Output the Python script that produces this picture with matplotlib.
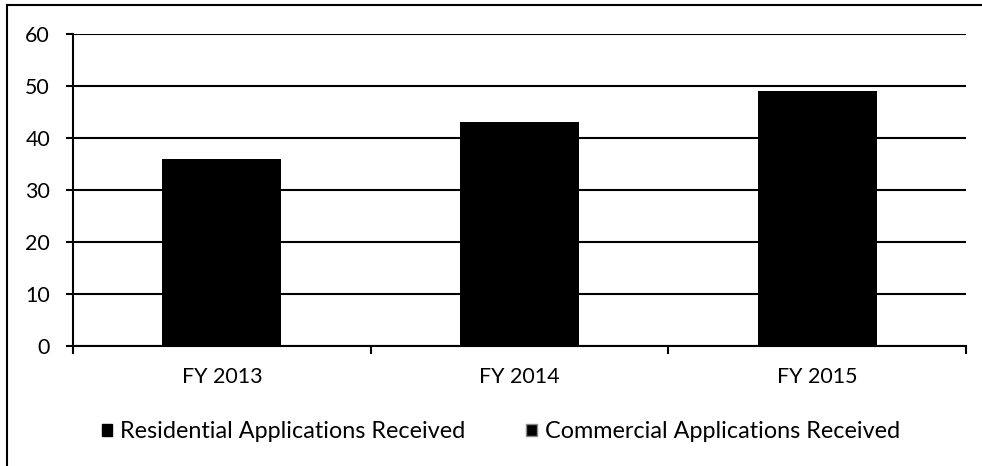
import matplotlib
matplotlib.use("Agg")
import matplotlib.pyplot as plt
from matplotlib.lines import Line2D
from matplotlib.patches import Patch
import numpy as np

categories = ["FY 2013", "FY 2014", "FY 2015"]
residential = [20, 22, 25]
commercial = [16, 21, 24]
series_labels = ["Residential Applications Received", "Commercial Applications Received"]
yticks = [0, 10, 20, 30, 40, 50, 60]

plt.rcParams['font.family'] = ['Lato', 'DejaVu Sans']
FS = 15.4
LFS = 16.8

fig = plt.figure(figsize=(9.82, 4.66), dpi=100)
ax = fig.add_axes([73/982, 1-346/466, (966-73)/982, (346-34)/466])

x = np.arange(len(categories))
ax.bar(x, residential, width=0.4, color='black', zorder=3, label=series_labels[0])
ax.bar(x, commercial, width=0.4, bottom=residential, color='black', zorder=3, label=series_labels[1])

ax.set_xlim(-0.5, len(categories) - 0.5)
ax.set_ylim(0, 60)
ax.set_yticks(yticks)
ax.set_xticks(x)
ax.set_xticklabels(categories, fontsize=FS)
ax.set_xticks(np.arange(-0.5, len(categories), 1.0), minor=True)
ax.tick_params(axis='x', which='major', length=0, pad=15)
ax.tick_params(axis='x', which='minor', length=6, width=1.5, direction='out', color='black')
ax.tick_params(axis='y', length=5, width=1.5, direction='out', labelsize=FS, pad=11.5)
ax.yaxis.grid(True, color='black', linewidth=1.5, zorder=0)
ax.set_axisbelow(True)
for s in ['top', 'right']:
    ax.spines[s].set_visible(False)
for s in ['left', 'bottom']:
    ax.spines[s].set_linewidth(1.5)
    ax.spines[s].set_color('black')

handles = [Patch(facecolor='black', edgecolor='black'),
           Patch(facecolor='black', edgecolor='#888888', hatch='|')]
fig.legend(handles, series_labels, loc='center', bbox_to_anchor=(501/982, 1-432/466),
           ncol=2, frameon=False, fontsize=LFS, handlelength=0.45, handleheight=0.45,
           handletextpad=0.35, columnspacing=2.6)

fig.add_artist(Line2D([7/982, 1], [1-5/466, 1-5/466], transform=fig.transFigure, color='black', linewidth=1.5))
fig.add_artist(Line2D([7/982, 7/982], [0, 1-5/466], transform=fig.transFigure, color='black', linewidth=1.5))

fig.savefig("out.png", dpi=100, facecolor='white')
